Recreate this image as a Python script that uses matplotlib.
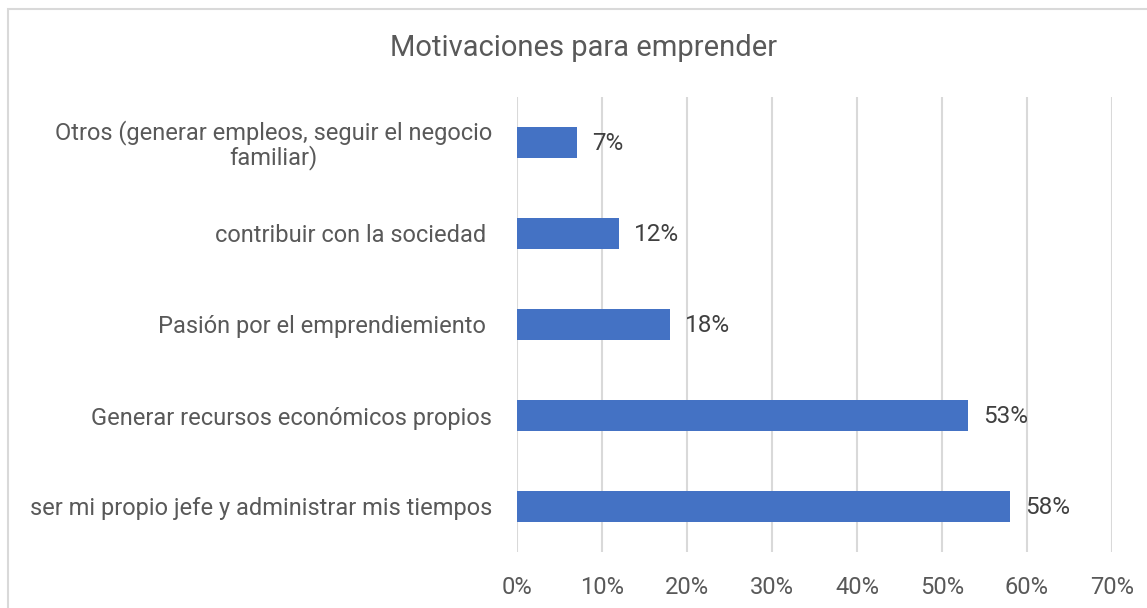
import matplotlib
matplotlib.use("Agg")
import matplotlib.pyplot as plt
from matplotlib.patches import Rectangle

plt.rcParams['font.family'] = ['Roboto', 'DejaVu Sans']

categories = [
    "ser mi propio jefe y administrar mis tiempos",
    "Generar recursos económicos propios",
    "Pasión por el emprendiemiento ",
    "contribuir con la sociedad ",
    "Otros (generar empleos, seguir el negocio\nfamiliar)",
]
values = [58, 53, 18, 12, 7]
xticks = [0, 10, 20, 30, 40, 50, 60, 70]

text_color = '#595959'
bar_color = '#4472C4'
grid_color = '#d9d9d9'

fig = plt.figure(figsize=(11.47, 6.08), dpi=100)
W, H = 1147, 608
ax = fig.add_axes([517 / W, 1 - 552 / H, (1112 - 517) / W, (552 - 97) / H])

# chart border (cut off at right and bottom in the reference)
fig.patches.append(Rectangle((8 / W, -0.1), 1.2, 1 - 9 / H + 0.1,
                             transform=fig.transFigure, fill=False,
                             edgecolor='#d9d9d9', linewidth=1.5))

y = range(len(categories))
ax.barh(y, values, height=0.35, color=bar_color, zorder=3)

for yi, v in zip(y, values):
    ax.annotate(f"{v}%", (v, yi), xytext=(11, -1), textcoords='offset points',
                va='center', ha='left', fontsize=17.5, color='#404040')

ax.set_xlim(0, 70)
ax.set_ylim(-0.5, len(categories) - 0.5)
ax.set_xticks(xticks)
ax.set_xticklabels([f"{t}%" for t in xticks])
ax.set_yticks(list(y))
ax.set_yticklabels(categories, multialignment='center', linespacing=1.0)

ax.tick_params(axis='x', length=0, pad=17, labelsize=17, labelcolor=text_color)
ax.tick_params(axis='y', length=0, pad=18, labelsize=17, labelcolor=text_color)
ax.grid(axis='x', color=grid_color, linewidth=1.5, zorder=0)
for s in ax.spines.values():
    s.set_visible(False)

fig.text(584 / W, 1 - 48 / H, "Motivaciones para emprender", ha='center', va='center',
         fontsize=21, color=text_color)

fig.savefig("out.png", dpi=100)
